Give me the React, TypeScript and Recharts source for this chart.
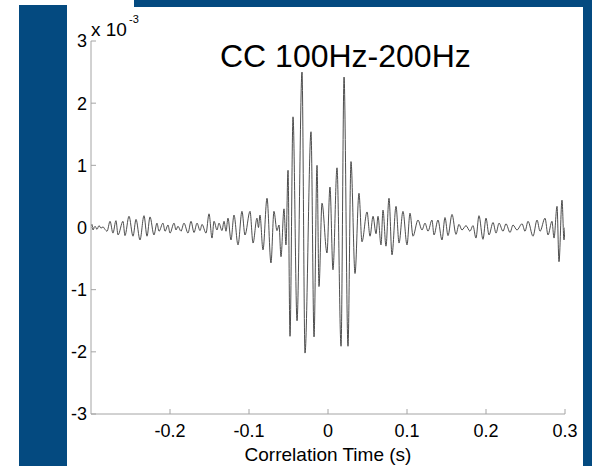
import React from 'react';
import { LineChart, Line, XAxis, YAxis, Label } from 'recharts';

// correlation time (s)
const times = [
  -0.3000, -0.2987, -0.2975, -0.2949, -0.2924, -0.2899, -0.2873, -0.2848, -0.2823, -0.2797,
  -0.2759, -0.2722, -0.2684, -0.2658, -0.2595, -0.2570, -0.2519, -0.2468, -0.2430, -0.2380,
  -0.2329, -0.2291, -0.2253, -0.2203, -0.2165, -0.2139, -0.2089, -0.2063, -0.2025, -0.2000,
  -0.1949, -0.1924, -0.1899, -0.1861, -0.1823, -0.1772, -0.1734, -0.1696, -0.1658, -0.1620,
  -0.1595, -0.1544, -0.1506, -0.1468, -0.1443, -0.1405, -0.1380, -0.1342, -0.1316, -0.1291,
  -0.1266, -0.1228, -0.1190, -0.1139, -0.1089, -0.1051, -0.0987, -0.0949, -0.0899, -0.0880,
  -0.0861, -0.0823, -0.0772, -0.0722, -0.0684, -0.0646, -0.0620, -0.0595, -0.0557, -0.0532,
  -0.0506, -0.0481, -0.0443, -0.0392, -0.0329, -0.0291, -0.0215, -0.0177, -0.0139, -0.0114,
  -0.0076, -0.0013, 0.0025, 0.0063, 0.0114, 0.0165, 0.0203, 0.0253, 0.0291, 0.0342,
  0.0392, 0.0430, 0.0494, 0.0532, 0.0570, 0.0608, 0.0633, 0.0671, 0.0696, 0.0734,
  0.0772, 0.0810, 0.0861, 0.0899, 0.0949, 0.1000, 0.1038, 0.1076, 0.1139, 0.1190,
  0.1228, 0.1266, 0.1316, 0.1342, 0.1392, 0.1443, 0.1481, 0.1519, 0.1570, 0.1620,
  0.1658, 0.1696, 0.1747, 0.1797, 0.1835, 0.1873, 0.1911, 0.1962, 0.2000, 0.2038,
  0.2089, 0.2127, 0.2165, 0.2215, 0.2253, 0.2304, 0.2342, 0.2392, 0.2456, 0.2494,
  0.2532, 0.2595, 0.2646, 0.2684, 0.2747, 0.2785, 0.2835, 0.2861, 0.2899, 0.2924,
  0.2962, 0.2987, 0.3000,
];

// cross-correlation, in units of 1e-3
const values = [
  0.02, 0.05, -0.04, 0.02, -0.03, 0.03, -0.01, 0.01, -0.03, -0.06,
  0.10, -0.09, 0.11, -0.12, 0.10, -0.13, 0.18, -0.14, 0.13, -0.20,
  0.19, -0.14, 0.17, -0.12, 0.07, -0.06, 0.07, -0.06, 0.04, -0.09,
  0.07, -0.04, 0.02, -0.06, 0.07, -0.09, 0.10, -0.08, 0.07, -0.05,
  0.05, -0.09, 0.22, -0.17, 0.10, -0.04, 0.07, -0.05, 0.10, -0.06,
  0.15, -0.20, 0.20, -0.28, 0.26, -0.12, 0.26, -0.25, 0.15, 0.00,
  0.20, -0.36, 0.47, -0.57, 0.26, -0.05, 0.04, -0.47, 0.30, -0.28,
  0.92, -1.75, 1.78, -1.50, 2.50, -2.02, 1.54, -1.76, 1.00, -0.95,
  0.39, -0.41, 0.65, -0.68, 0.96, -1.91, 2.42, -1.91, 1.06, -0.74,
  0.55, -0.23, 0.25, -0.14, 0.18, -0.10, 0.18, -0.28, 0.28, -0.30,
  0.47, -0.44, 0.34, -0.25, 0.26, -0.28, 0.23, -0.14, 0.12, -0.04,
  0.07, -0.06, 0.12, -0.12, 0.12, -0.20, 0.16, -0.13, 0.21, -0.11,
  0.05, -0.04, 0.03, -0.06, 0.03, -0.17, 0.19, -0.19, 0.15, -0.12,
  0.08, -0.09, 0.07, -0.06, 0.06, -0.08, 0.04, -0.04, 0.06, -0.06,
  0.10, -0.14, 0.12, -0.06, 0.15, -0.12, 0.10, -0.17, 0.34, -0.55,
  0.44, -0.20, 0.00,
];

const xTicks = [-0.2, -0.1, 0, 0.1, 0.2, 0.3];
const yTicks = [-3, -2, -1, 0, 1, 2, 3];
const title = 'CC 100Hz-200Hz';
const xLabel = 'Correlation Time (s)';

const chartData = times.map((t, i) => ({ t, v: values[i] }));

const FONT = '"Liberation Sans", Arial, Helvetica, sans-serif';
const BLUE = '#044a80';
const AXIS = '#a4a4a4';

export default function App() {
  return (
    <div
      style={{
        position: 'absolute',
        left: 0,
        top: 0,
        width: 592,
        height: 466,
        background: '#fff',
        overflow: 'hidden',
        fontFamily: FONT,
      }}
    >
      <div style={{ position: 'absolute', left: 19, top: 5, width: 48, height: 461, background: BLUE }} />
      <div style={{ position: 'absolute', left: 134, top: 0, width: 458, height: 7, background: BLUE }} />
      <div style={{ position: 'absolute', left: 583, top: 0, width: 9, height: 466, background: BLUE }} />

      <div style={{ position: 'absolute', left: 0, top: 0 }}>
        <LineChart
          width={592}
          height={466}
          data={chartData}
          margin={{ top: 41, right: 27, bottom: 2, left: 31 }}
        >
          <XAxis
            xAxisId="bottom"
            dataKey="t"
            type="number"
            domain={[-0.3, 0.3]}
            ticks={xTicks}
            interval={0}
            allowDataOverflow
            stroke={AXIS}
            tickSize={-5}
            tickMargin={15}
            height={50}
            tick={{ fill: '#000', fontSize: 18, fontFamily: FONT }}
          >
            <Label value={xLabel} position="insideBottom" offset={3} fill="#000" fontSize={19} fontFamily={FONT} />
          </XAxis>
          <XAxis
            xAxisId="top"
            orientation="top"
            dataKey="t"
            type="number"
            domain={[-0.3, 0.3]}
            ticks={xTicks}
            interval={0}
            allowDataOverflow
            stroke={AXIS}
            tickSize={-5}
            height={0}
            tick={false}
          />
          <YAxis
            yAxisId="left"
            type="number"
            domain={[-3, 3]}
            ticks={yTicks}
            interval={0}
            allowDataOverflow
            stroke={AXIS}
            tickSize={-5}
            tickMargin={9}
            width={60}
            tick={{ fill: '#000', fontSize: 18, fontFamily: FONT }}
          />
          <YAxis
            yAxisId="right"
            orientation="right"
            type="number"
            domain={[-3, 3]}
            ticks={yTicks}
            interval={0}
            allowDataOverflow
            stroke={AXIS}
            tickSize={-5}
            width={0}
            tick={false}
          />
          <Line
            xAxisId="bottom"
            yAxisId="left"
            dataKey="v"
            type="monotone"
            stroke="#3a3a3a"
            strokeWidth={0.9}
            dot={false}
            isAnimationActive={false}
          />
        </LineChart>
      </div>

      <div style={{ position: 'absolute', left: 220, top: 40, fontSize: 32, lineHeight: '32px', color: '#000', whiteSpace: 'nowrap' }}>
        {title}
      </div>
      <div style={{ position: 'absolute', left: 91, top: 20, fontSize: 19, lineHeight: '19px', color: '#000', whiteSpace: 'nowrap' }}>
        x 10
      </div>
      <div style={{ position: 'absolute', left: 129, top: 14, fontSize: 11, lineHeight: '11px', color: '#000', whiteSpace: 'nowrap' }}>
        -3
      </div>
    </div>
  );
}
